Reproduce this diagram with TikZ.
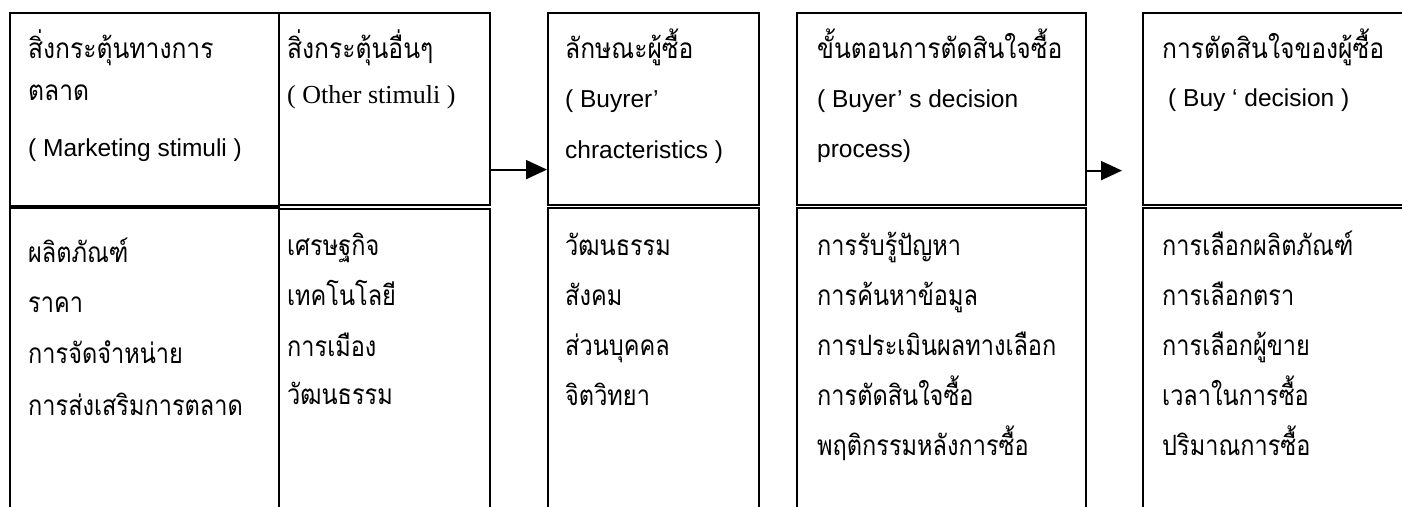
\documentclass[tikz,border=0pt]{standalone}
\usepackage{fontspec}
\usetikzlibrary{arrows.meta}
\newfontfamily\thaihead[Script=Thai,FakeStretch=0.88]{Loma}
\newfontfamily\thaibody[Script=Thai,FakeStretch=0.84]{Loma}
\newfontfamily\ensans{Liberation Sans}
\newfontfamily\enserif{Liberation Serif}
\begin{document}
\begin{tikzpicture}[x=1pt,y=-1pt,
  box/.style={draw, line width=1.6pt, rectangle, inner sep=0pt, anchor=north west},
  thh/.style={anchor=base west, inner sep=0pt, font=\thaihead\fontsize{28}{28}\selectfont},
  th/.style={anchor=base west, inner sep=0pt, font=\thaibody\fontsize{28}{28}\selectfont},
  ens/.style={anchor=base west, inner sep=0pt, font=\ensans\fontsize{24.5}{24.5}\selectfont},
  enr/.style={anchor=base west, inner sep=0pt, font=\enserif\fontsize{26}{26}\selectfont},
  arr/.style={line width=1.8pt, -{Triangle[length=21pt,width=19pt]}}]
\useasboundingbox (0,0) rectangle (1402,506);
\clip (0,0) rectangle (1402,506);
% header boxes
\node[box, minimum width=269pt, minimum height=193pt] (h1) at (9,12) {};
\node[box, minimum width=211pt, minimum height=192pt] (h2) at (278,12) {};
\node[box, minimum width=211pt, minimum height=192pt] (h3) at (547,12) {};
\node[box, minimum width=289pt, minimum height=192pt] (h4) at (796,12) {};
\node[box, minimum width=290pt, minimum height=192pt] (h5) at (1142,12) {};
% lower boxes
\node[box, minimum width=269pt, minimum height=330pt] (l1) at (9,207) {};
\node[box, minimum width=211pt, minimum height=330pt] (l2) at (278,208) {};
\node[box, minimum width=211pt, minimum height=330pt] (l3) at (547,207) {};
\node[box, minimum width=289pt, minimum height=330pt] (l4) at (796,207) {};
\node[box, minimum width=290pt, minimum height=330pt] (l5) at (1142,207) {};
% arrows
\draw[arr] ([yshift=36pt]h2.south east) -- ([yshift=36pt]h3.south west);
\draw[arr] ([yshift=35pt]h4.south east) -- ([yshift=35pt,xshift=-20pt]h5.south west);
% header texts
\node[thh] (t11) at (28,58) {สิ่งกระตุ้นทางการ};
\node[thh] (t12) at (28,100) {ตลาด};
\node[ens] (t13) at (28,156) {( Marketing stimuli )};
\node[thh] (t21) at (287,58) {สิ่งกระตุ้นอื่นๆ};
\node[enr] (t22) at (287,103) {( Other stimuli )};
\node[thh] (t31) at (565,58) {ลักษณะผู้ซื้อ};
\node[ens] (t32) at (565,107) {( Buyrer’};
\node[ens] (t33) at (565,158) {chracteristics )};
\node[thh] (t41) at (817,58) {ขั้นตอนการตัดสินใจซื้อ};
\node[ens] (t42) at (817,107) {( Buyer’ s decision};
\node[ens] (t43) at (817,157) {process)};
\node[thh] (t51) at (1162,58) {การตัดสินใจของผู้ซื้อ};
\node[ens] (t52) at (1168,106) {( Buy ‘ decision )};
% lower texts
\node[th] (a1) at (28,262) {ผลิตภัณฑ์};
\node[th] (a2) at (28,312) {ราคา};
\node[th] (a3) at (28,363) {การจัดจำหน่าย};
\node[th] (a4) at (28,415) {การส่งเสริมการตลาด};
\node[th] (b1) at (287,255) {เศรษฐกิจ};
\node[th] (b2) at (287,305) {เทคโนโลยี};
\node[th] (b3) at (287,356) {การเมือง};
\node[th] (b4) at (287,404) {วัฒนธรรม};
\node[th] (c1) at (565,255) {วัฒนธรรม};
\node[th] (c2) at (565,305) {สังคม};
\node[th] (c3) at (565,355) {ส่วนบุคคล};
\node[th] (c4) at (565,405) {จิตวิทยา};
\node[th] (d1) at (817,255) {การรับรู้ปัญหา};
\node[th] (d2) at (817,305) {การค้นหาข้อมูล};
\node[th] (d3) at (817,355) {การประเมินผลทางเลือก};
\node[th] (d4) at (817,405) {การตัดสินใจซื้อ};
\node[th] (d5) at (817,455) {พฤติกรรมหลังการซื้อ};
\node[th] (e1) at (1162,255) {การเลือกผลิตภัณฑ์};
\node[th] (e2) at (1162,305) {การเลือกตรา};
\node[th] (e3) at (1162,355) {การเลือกผู้ขาย};
\node[th] (e4) at (1162,405) {เวลาในการซื้อ};
\node[th] (e5) at (1162,455) {ปริมาณการซื้อ};
\end{tikzpicture}
\end{document}
